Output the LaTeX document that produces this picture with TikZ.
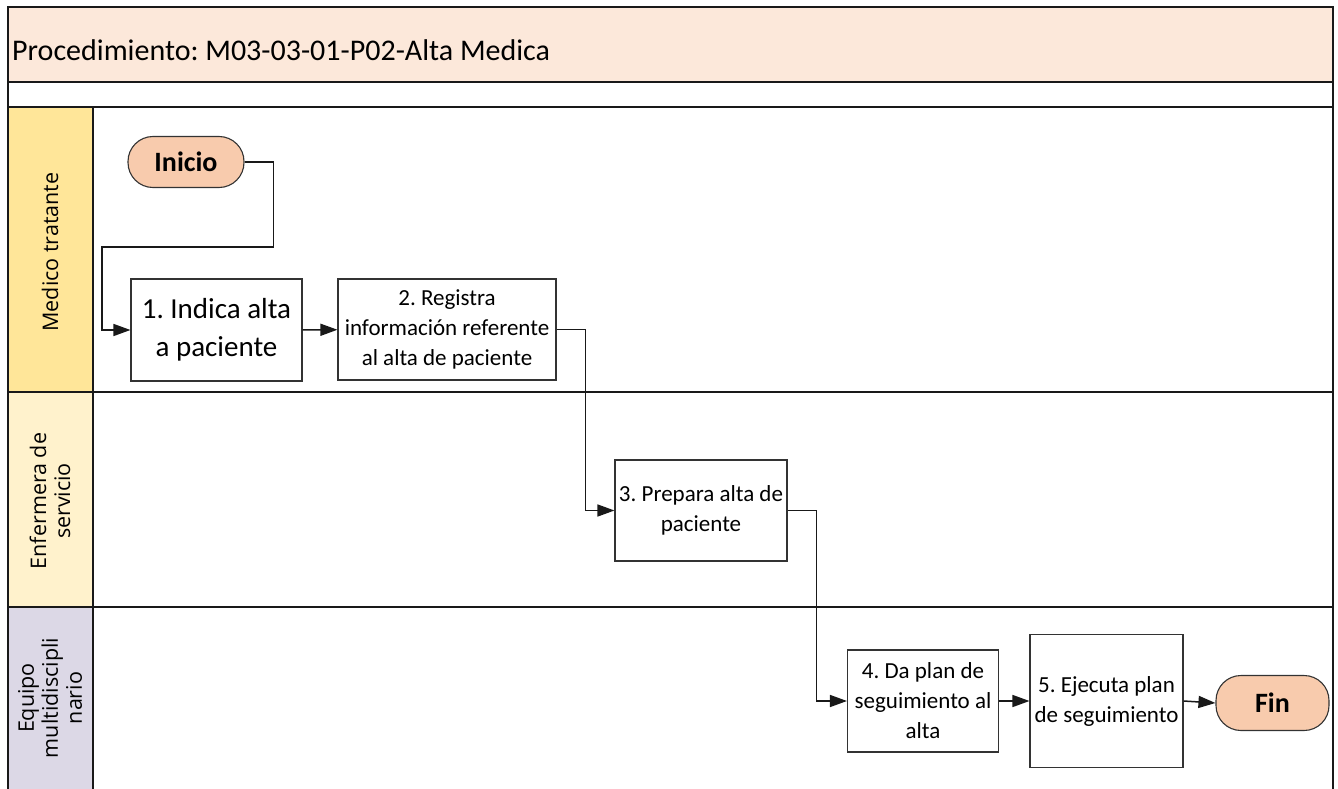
\documentclass[tikz,border=0pt]{standalone}
\usepackage{fontspec}
\setmainfont{Carlito}
\newfontfamily\lanefont{Open Sans}
\usetikzlibrary{arrows.meta}
\frenchspacing

\definecolor{fondoTitulo}{HTML}{FCE8DA}
\definecolor{carrilUno}{HTML}{FFE699}
\definecolor{carrilDos}{HTML}{FFF2CC}
\definecolor{carrilTres}{HTML}{DCD8E6}
\definecolor{terminal}{HTML}{F8CBAD}

\begin{document}
\begin{tikzpicture}[x=1pt, y=-1pt,
    marco/.style={line width=1.8pt, black!90},
    carril/.style={rotate=90, align=center, font=\lanefont\fontsize{21.5}{24}\selectfont, inner sep=0pt},
    caja/.style={draw=black!80, line width=1.1pt, fill=white, align=center, inner sep=1pt, font=\fontsize{23}{30}\selectfont},
    extremo/.style={draw=black!80, line width=1.1pt, fill=terminal, rounded corners=25pt, font=\bfseries\fontsize{28}{34}\selectfont},
    flujo/.style={line width=1.5pt, black!90, -{Triangle[length=17pt, width=12pt]}}]
            \useasboundingbox (0,0) rectangle (1338,789);

            % fondos
            \fill[fondoTitulo] (8,7) rectangle (1333,82);
            \fill[carrilUno] (8,107) rectangle (93,392);
            \fill[carrilDos] (8,392) rectangle (93,607);
            \fill[carrilTres] (8,607) rectangle (93,789);

            % lineas del marco
            \draw[marco] (8,789) -- (8,7) -- (1333,7) -- (1333,789);
            \draw[marco] (8,82) -- (1333,82);
            \draw[marco] (8,107) -- (1333,107);
            \draw[marco] (8,392) -- (1333,392);
            \draw[marco] (8,607) -- (1333,607);
            \draw[marco] (93,107) -- (93,789);

            \node[anchor=base west, inner sep=0pt, font=\fontsize{30}{34}\selectfont] (titulo) at (12,61) {Procedimiento: M03-03-01-P02-Alta Medica};

            \node[carril] (medico) at (50,252) {Medico tratante};
            \node[carril] (enfermera) at (50,501) {Enfermera de\\servicio};
            \node[carril] (equipo) at (50,698) {Equipo\\multidiscipli\\nario};

            % pasos
            \node[extremo, minimum width=116pt, minimum height=51pt] (inicio) at (186,162) {Inicio};
            \node[caja, minimum width=171pt, minimum height=102pt, font=\fontsize{29}{38}\selectfont] (paso1) at (216.5,330) {1. Indica alta\\a paciente};
            \node[caja, minimum width=218pt, minimum height=101pt] (paso2) at (447,329.5) {2. Registra\\información referente\\al alta de paciente};
            \node[caja, minimum width=172pt, minimum height=101pt] (paso3) at (701,510.5) {3. Prepara alta de\\paciente};
            \node[caja, minimum width=151pt, minimum height=102pt] (paso4) at (923,701) {4. Da plan de\\seguimiento al\\alta};
            \node[caja, minimum width=153pt, minimum height=133pt] (paso5) at (1106.5,701) {5. Ejecuta plan\\de seguimiento};
            \node[extremo, minimum width=113pt, minimum height=55pt] (fin) at (1272.5,703) {Fin};

            % conectores
            \draw[flujo] (inicio.east) -- ++(29,0) |- (102,247) |- (paso1.west);
            \draw[flujo] (paso1) -- (paso2);
            \draw[flujo] (paso2.east) -- ++(29,0) |- (paso3.west);
            \draw[flujo] (paso3.east) -- ++(29,0) |- (paso4.west);
            \draw[flujo] (paso4) -- (paso5);
            \draw[flujo] (paso5.east) -- (fin.west);
        \end{tikzpicture}
\end{document}
